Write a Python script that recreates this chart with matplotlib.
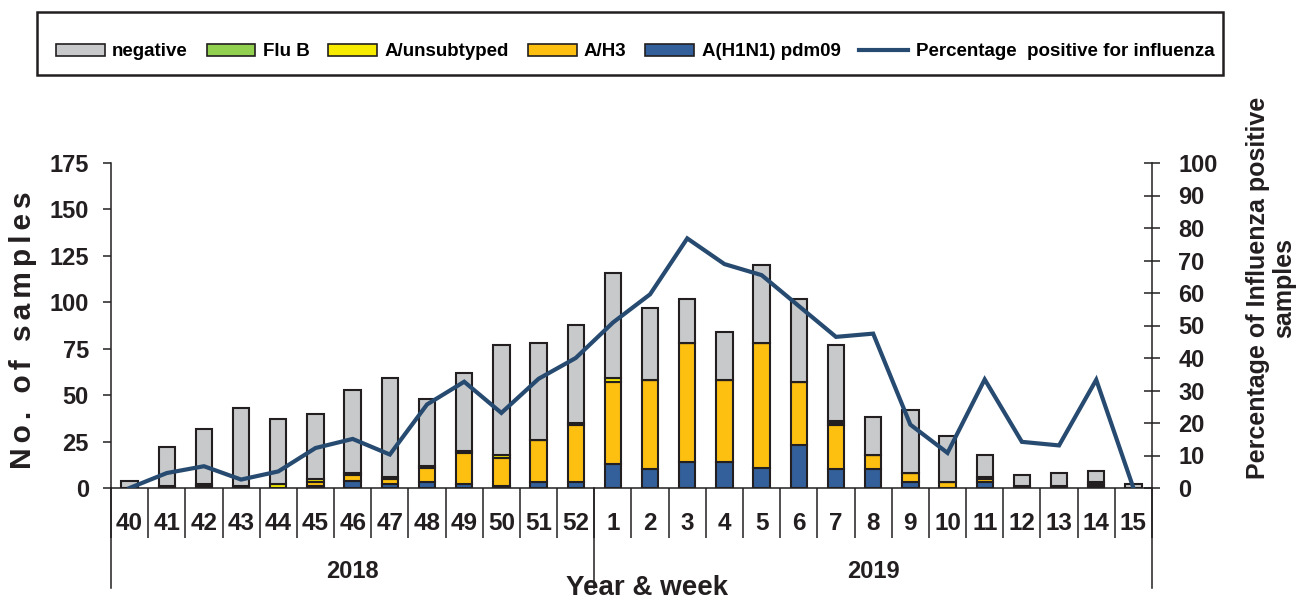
import matplotlib
matplotlib.use('agg')
import matplotlib.pyplot as plt
from matplotlib.patches import Patch, Rectangle
from matplotlib.lines import Line2D
import numpy as np

## Surveillance weeks 40/2018 .. 15/2019
weeks = ['40', '41', '42', '43', '44', '45', '46', '47', '48', '49', '50', '51', '52',
         '1', '2', '3', '4', '5', '6', '7', '8', '9', '10', '11', '12', '13', '14', '15']
years = ['2018', '2019']
n_2018 = 13

## Counts per week
total = [4, 22, 32, 43, 37, 40, 53, 59, 48, 62, 77, 78, 88,
         116, 97, 102, 84, 120, 102, 77, 38, 42, 28, 18, 7, 8, 9, 2]
h1n1 = [0, 0, 1, 0, 0, 1, 4, 2, 3, 2, 1, 3, 3,
        13, 10, 14, 14, 11, 23, 10, 10, 3, 0, 3, 0, 0, 1, 0]
ah3 = [0, 0, 0, 0, 0, 2, 3, 3, 8, 17, 15, 23, 31,
       44, 48, 64, 44, 67, 34, 24, 8, 5, 3, 2, 0, 0, 1, 0]
unsub = [0, 1, 1, 1, 2, 2, 1, 1, 1, 1, 2, 0, 1,
         2, 0, 0, 0, 0, 0, 1, 0, 0, 0, 1, 1, 1, 1, 0]
flub = [0, 0, 0, 0, 0, 0, 0, 0, 0, 0, 0, 0, 0,
        0, 0, 0, 0, 0, 0, 1, 0, 0, 0, 0, 0, 0, 0, 0]

## Percentage positive (right axis)
pct_pos = [0, 4.6, 6.7, 2.6, 5.1, 12.3, 15.1, 10.3, 25.7, 32.7, 23.1, 33.6, 40.0,
           50.9, 59.6, 76.8, 68.9, 65.5, 56.0, 46.5, 47.5, 19.5, 10.8, 33.4, 14.2, 13.1, 33.3, 0]

h1n1 = np.array(h1n1)
ah3 = np.array(ah3)
unsub = np.array(unsub)
flub = np.array(flub)
negative = np.array(total) - h1n1 - ah3 - unsub - flub

c_neg = '#C8C9CB'
c_flub = '#92D050'
c_unsub = '#F7EC00'
c_h3 = '#FDC010'
c_h1 = '#33609A'
c_line = '#264A70'
c_edge = '#231F20'

fam = ['Liberation Sans', 'DejaVu Sans']
plt.rcParams['font.family'] = fam
plt.rcParams['font.weight'] = 'bold'

W, H = 1301, 601
fig = plt.figure(figsize=(W / 100, H / 100), dpi=100)
ax = fig.add_axes([111 / W, 1 - 488 / H, 1041 / W, 325 / H])

x = np.arange(len(weeks)) + 0.5
bw = 0.44
bot = np.zeros(len(weeks))
for vals, col in [(h1n1, c_h1), (ah3, c_h3), (unsub, c_unsub), (flub, c_flub), (negative, c_neg)]:
    ax.bar(x, vals, bw, bottom=bot, color=col, edgecolor=c_edge, linewidth=1.5, zorder=2)
    bot = bot + vals

ax.set_xlim(0, len(weeks))
ax.set_ylim(0, 175)
ax.set_yticks(np.arange(0, 176, 25))
ax.tick_params(axis='y', direction='out', length=6, width=1.1, pad=10, labelsize=17, colors=c_edge)
ax.set_xticks(np.arange(len(weeks) + 1))
ax.set_xticklabels([])
ax.tick_params(axis='x', direction='out', length=36, width=1.1, color=c_edge)
for s in ['top', 'right']:
    ax.spines[s].set_visible(False)
for s in ['left', 'bottom']:
    ax.spines[s].set_linewidth(1.1)
    ax.spines[s].set_color(c_edge)

ax2 = ax.twinx()
ax2.plot(x, pct_pos, color=c_line, lw=3.0, zorder=5, solid_joinstyle='miter')
ax2.set_ylim(0, 100)
ax2.set_yticks(np.arange(0, 101, 10))
ax2.tick_params(axis='y', direction='inout', length=12, width=1.1, pad=13, labelsize=17, colors=c_edge)
for s in ['top', 'left', 'bottom']:
    ax2.spines[s].set_visible(False)
ax2.spines['right'].set_linewidth(1.1)
ax2.spines['right'].set_color(c_edge)
ax2.set_zorder(ax.get_zorder() + 1)

## Two-level category axis
tr = ax.get_xaxis_transform()
for i, w in enumerate(weeks):
    ax.text(x[i], -35 / 325, w, transform=tr, ha='center', va='center', fontsize=17.5, color=c_edge)
for xb in [0, n_2018, len(weeks)]:
    ax.plot([xb, xb], [0, -100 / 325], transform=tr, color=c_edge, lw=1.1, clip_on=False)
ax.text(n_2018 / 2, -84 / 325, years[0], transform=tr, ha='center', va='center', fontsize=17, color=c_edge)
ax.text((n_2018 + len(weeks)) / 2, -84 / 325, years[1], transform=tr, ha='center', va='center', fontsize=17, color=c_edge)

fig.text(647 / W, 1 - 588 / H, 'Year & week', ha='center', va='center', fontsize=20, color=c_edge)
fig.text(23 / W, 1 - 330 / H, '\u200a\u200a'.join('No. of samples'), rotation=90, ha='center', va='center',
         fontsize=21.5, color=c_edge)
fig.text(1271 / W, 1 - 288 / H, 'Percentage of Influenza positive\nsamples', rotation=90,
         ha='center', va='center', fontsize=18, color=c_edge, linespacing=1.15, multialignment='center')

## Legend in a box across the top
handles = [Patch(facecolor=c_neg, edgecolor=c_edge, lw=1.2),
           Patch(facecolor=c_flub, edgecolor=c_edge, lw=1.2),
           Patch(facecolor=c_unsub, edgecolor=c_edge, lw=1.2),
           Patch(facecolor=c_h3, edgecolor=c_edge, lw=1.2),
           Patch(facecolor=c_h1, edgecolor=c_edge, lw=1.2),
           Line2D([], [], color=c_line, lw=3)]
labels = ['negative', 'Flu B', 'A/unsubtyped', 'A/H3', 'A(H1N1) pdm09', 'Percentage  positive for influenza']
fig.legend(handles, labels, loc='center', bbox_to_anchor=(635 / W, 1 - 52 / H), ncol=6, frameon=False,
           fontsize=13.5, handlelength=2.6, handleheight=0.65, handletextpad=0.4, columnspacing=1.0,
           borderaxespad=0)
fig.patches.append(Rectangle((37 / W, 1 - 75 / H), 1186 / W, 63 / H, transform=fig.transFigure,
                             fill=False, edgecolor=c_edge, lw=1.8))

fig.savefig('out.png', dpi=100)
